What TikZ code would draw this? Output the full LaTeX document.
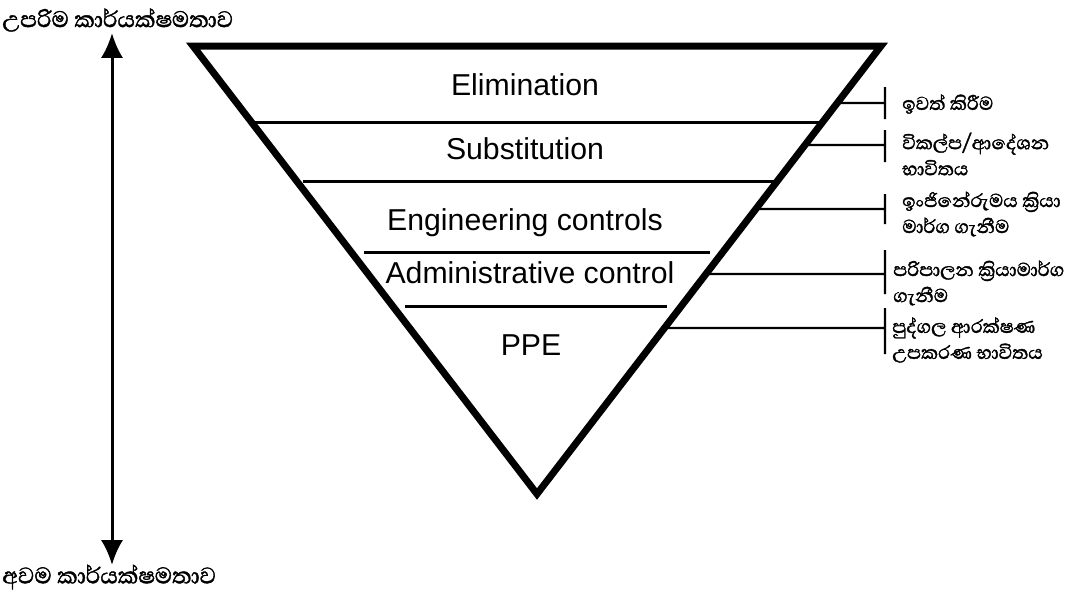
\documentclass[tikz,border=0pt]{standalone}
\usepackage{fontspec}
\setmainfont{Liberation Sans}
\newfontfamily\sinhala[Script=Sinhala, FakeBold=1.5]{Abhaya Libre}
\usetikzlibrary{arrows.meta,calc}

\tikzset{
  divider/.style={line width=0.75mm},
  levellabel/.style={font=\fontsize{21.5}{24}\selectfont, anchor=base, inner sep=0pt},
  ticklink/.style={line width=0.6mm},
  sinlabel/.style={font=\sinhala\fontsize{17}{18.5}\selectfont, align=left, anchor=west, inner sep=0pt},
  sinhead/.style={font=\sinhala\fontsize{20.5}{20.5}\selectfont, anchor=west, inner sep=0pt},
}

\begin{document}
\begin{tikzpicture}[x=0.25mm,y=-0.25mm]
        \useasboundingbox (0,0) rectangle (1072,592);

        % efficiency arrow
        \node[sinhead] (maxeff) at (2,20) {උපරිම කාර්යක්ෂමතාව};
        \node[sinhead] (mineff) at (2,577) {අවම කාර්යක්ෂමතාව};
        \coordinate (arrtop) at (112,33);
        \coordinate (arrbot) at (112,565);
        \draw[line width=0.75mm, {Latex[length=6.2mm,width=5.5mm]}-{Latex[length=6.2mm,width=5.5mm]}] (arrtop) -- (arrbot);

        % inverted triangle
        \coordinate (tl) at (193,46);
        \coordinate (tr) at (881,46);
        \coordinate (apex) at (537,494);
        \draw[line width=1.75mm] (tl) -- (tr) -- (apex) -- cycle;

        \draw[divider] (250,122) -- (823,122);
        \draw[divider] (303,181) -- (777,181);
        \draw[divider] (364,252) -- (710,252);
        \draw[divider] (405,306) -- (667,306);

        \node[levellabel] (elim) at (525,95) {Elimination};
        \node[levellabel] (subst) at (525,159) {Substitution};
        \node[levellabel] (eng) at (525,230) {Engineering controls};
        \node[levellabel] (admin) at (530,283) {Administrative control};
        \node[levellabel] (ppe) at (531,355) {PPE};

        % side notes
        \coordinate (s1) at ($(tr)!0.1272!(apex)$);
        \coordinate (s2) at ($(tr)!0.2210!(apex)$);
        \coordinate (s3) at ($(tr)!0.3638!(apex)$);
        \coordinate (s4) at ($(tr)!0.5089!(apex)$);
        \coordinate (s5) at ($(tr)!0.6295!(apex)$);
        \coordinate (b1) at (885,103);
        \coordinate (b2) at (885,145);
        \coordinate (b3) at (885,209);
        \coordinate (b4) at (885,274);
        \coordinate (b5) at (885,328);
        \draw[ticklink] (s1) -- (b1) ++(0,-16) -- ++(0,32);
        \draw[ticklink] (s2) -- (b2) ++(0,-15) -- ++(0,32);
        \draw[ticklink] (s3) -- (b3) ++(0,-15) -- ++(0,30);
        \draw[ticklink] (s4) -- (b4) ++(0,-24) -- ++(0,44);
        \draw[ticklink] (s5) -- (b5) ++(0,-20) -- ++(0,46);

        \node[sinlabel] (n1) at (902,104) {ඉවත් කිරීම};
        \node[sinlabel] (n2) at (902,154) {විකල්ප/ආදේශන\\භාවිතය};
        \node[sinlabel] (n3) at (902,214) {ඉංජිනේරුමය ක්^^^^200dරියා\\මාර්ග ගැනීම};
        \node[sinlabel] (n4) at (893,283) {පරිපාලන ක්^^^^200dරියාමාර්ග\\ගැනීම};
        \node[sinlabel] (n5) at (892,340) {පුද්ගල ආරක්ෂණ\\උපකරණ භාවිතය};
\end{tikzpicture}
\end{document}
